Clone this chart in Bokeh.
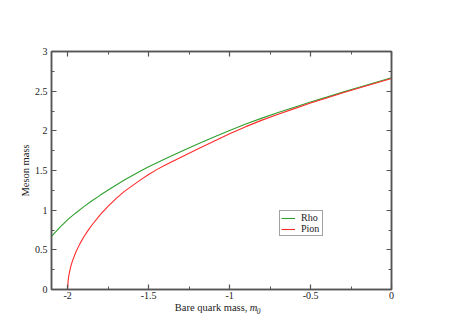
from bokeh.plotting import figure
from bokeh.layouts import column
from bokeh.models import (LinearAxis, FixedTicker, CustomJSTickFormatter, Range1d,
                          Legend, LegendItem, ColumnDataSource)
from bokeh.core.properties import value
from bokeh.embed import file_html
from bokeh.resources import INLINE

# data
rho_x = [-2.1, -2.05, -2.0, -1.95, -1.9, -1.85, -1.8, -1.75, -1.7, -1.65, -1.6, -1.55,
         -1.5, -1.4, -1.3, -1.2, -1.1, -1.0, -0.9, -0.8, -0.7, -0.6, -0.5, -0.4, -0.3,
         -0.2, -0.1, 0.0]
rho_y = [0.67, 0.78, 0.88, 0.965, 1.045, 1.118, 1.187, 1.255, 1.318, 1.38, 1.438, 1.495,
         1.547, 1.645, 1.74, 1.83, 1.918, 2.003, 2.085, 2.16, 2.23, 2.298, 2.363, 2.425,
         2.488, 2.55, 2.61, 2.668]
pion_x = [-2.0, -1.998, -1.995, -1.99, -1.98, -1.97, -1.95, -1.925, -1.9, -1.875, -1.85,
          -1.8, -1.75, -1.7, -1.65, -1.6, -1.55, -1.5, -1.45, -1.4, -1.35, -1.3, -1.2,
          -1.1, -1.0, -0.9, -0.8, -0.7, -0.6, -0.5, -0.4, -0.3, -0.2, -0.1, 0.0]
pion_y = [0.0, 0.094, 0.148, 0.21, 0.297, 0.364, 0.47, 0.575, 0.664, 0.742, 0.813,
          0.94, 1.05, 1.148, 1.237, 1.309, 1.382, 1.449, 1.511, 1.566, 1.618, 1.668,
          1.768, 1.867, 1.963, 2.053, 2.135, 2.21, 2.28, 2.35, 2.415, 2.48, 2.54, 2.60,
          2.66]
x_ticks = [-2.0, -1.5, -1.0, -0.5, 0.0]
x_minor = [-1.75, -1.25, -0.75, -0.25]
y_ticks = [0, 0.5, 1, 1.5, 2, 2.5, 3]
y_minor = [0.25, 0.75, 1.25, 1.75, 2.25, 2.75]
x_title = "Bare quark mass,"
x_title_var = "m"
x_title_sub = "0"

FONT = "Liberation Serif"
AX = "#555555"
TXT = "#222222"

p = figure(frame_width=340, frame_height=238, output_backend="svg", toolbar_location=None,
           x_range=Range1d(-2.1, 0), y_range=Range1d(0, 3),
           min_border_left=51, min_border_top=51, min_border_right=40, min_border_bottom=0)
p.grid.visible = False
p.outline_line_color = AX
p.outline_line_width = 1.5
p.background_fill_color = "white"
p.border_fill_color = "white"

fmt = CustomJSTickFormatter(code="return String(Math.round(tick*100)/100);")

def style(ax, ticks, minor, labels=True):
    ax.ticker = FixedTicker(ticks=ticks, minor_ticks=minor)
    ax.major_tick_in = 5
    ax.major_tick_out = 0
    ax.minor_tick_in = 3
    ax.minor_tick_out = 0
    ax.axis_line_color = AX
    ax.axis_line_width = 1.5
    ax.major_tick_line_color = AX
    ax.minor_tick_line_color = AX
    ax.major_tick_line_width = 1.2
    ax.minor_tick_line_width = 1
    ax.major_label_text_font = FONT
    ax.major_label_text_font_size = "10px"
    ax.major_label_text_color = TXT
    ax.formatter = fmt
    if not labels:
        ax.major_label_text_font_size = "0px"
        ax.major_label_text_alpha = 0

style(p.xaxis[0], x_ticks, x_minor)
style(p.yaxis[0], y_ticks, y_minor)
p.xaxis[0].major_label_standoff = 2
p.yaxis[0].major_label_standoff = 4
p.yaxis[0].axis_label = "Meson mass"
p.yaxis[0].axis_label_text_font = FONT
p.yaxis[0].axis_label_text_font_size = "10.5px"
p.yaxis[0].axis_label_text_font_style = "normal"
p.yaxis[0].axis_label_text_color = TXT
p.yaxis[0].axis_label_standoff = 1

top = LinearAxis()
style(top, x_ticks, x_minor, labels=False)
p.add_layout(top, "above")
right = LinearAxis()
style(right, y_ticks, y_minor, labels=False)
p.add_layout(right, "right")

src_r = ColumnDataSource(dict(x=rho_x, y=rho_y))
src_p = ColumnDataSource(dict(x=pion_x, y=pion_y))
r1 = p.line("x", "y", source=src_r, line_color="#2fa02f", line_width=1.1)
r2 = p.line("x", "y", source=src_p, line_color="#ff2a2a", line_width=1.1)

legend = Legend(items=[LegendItem(label="Rho", renderers=[r1]),
                       LegendItem(label="Pion", renderers=[r2])],
                location=(228, 53), label_text_font=FONT, label_text_font_size="10px",
                label_text_color=TXT, glyph_width=14, glyph_height=8,
                label_height=8, label_standoff=6, spacing=0, padding=1, margin=0,
                border_line_color="#444444", border_line_width=1,
                background_fill_alpha=1)
p.add_layout(legend, "center")

# strip below the plot holding the x axis title
p2 = figure(frame_width=340, frame_height=18, output_backend="svg", toolbar_location=None,
            x_range=p.x_range, y_range=Range1d(0, 18), x_axis_type=None, y_axis_type=None,
            min_border_left=51, min_border_right=40, min_border_top=0, min_border_bottom=0)
p2.grid.visible = False
p2.outline_line_color = None
p2.background_fill_color = "white"
p2.border_fill_color = "white"
p2.text(x=[-0.89], y=[12], text=[x_title], text_font=value(FONT),
        text_font_size="10.5px", text_align="right", text_baseline="middle",
        text_color=TXT)
p2.text(x=[-0.876], y=[12], text=[x_title_var], text_font=value(FONT),
        text_font_style="italic", text_font_size="10.5px", text_align="left",
        text_baseline="middle", text_color=TXT)
p2.text(x=[-0.832], y=[9], text=[x_title_sub], text_font=value(FONT),
        text_font_style="italic", text_font_size="7.5px", text_align="left",
        text_baseline="middle", text_color=TXT)

layout = column(p, p2, spacing=0)
open("out.html", "w").write(file_html(layout, INLINE))
